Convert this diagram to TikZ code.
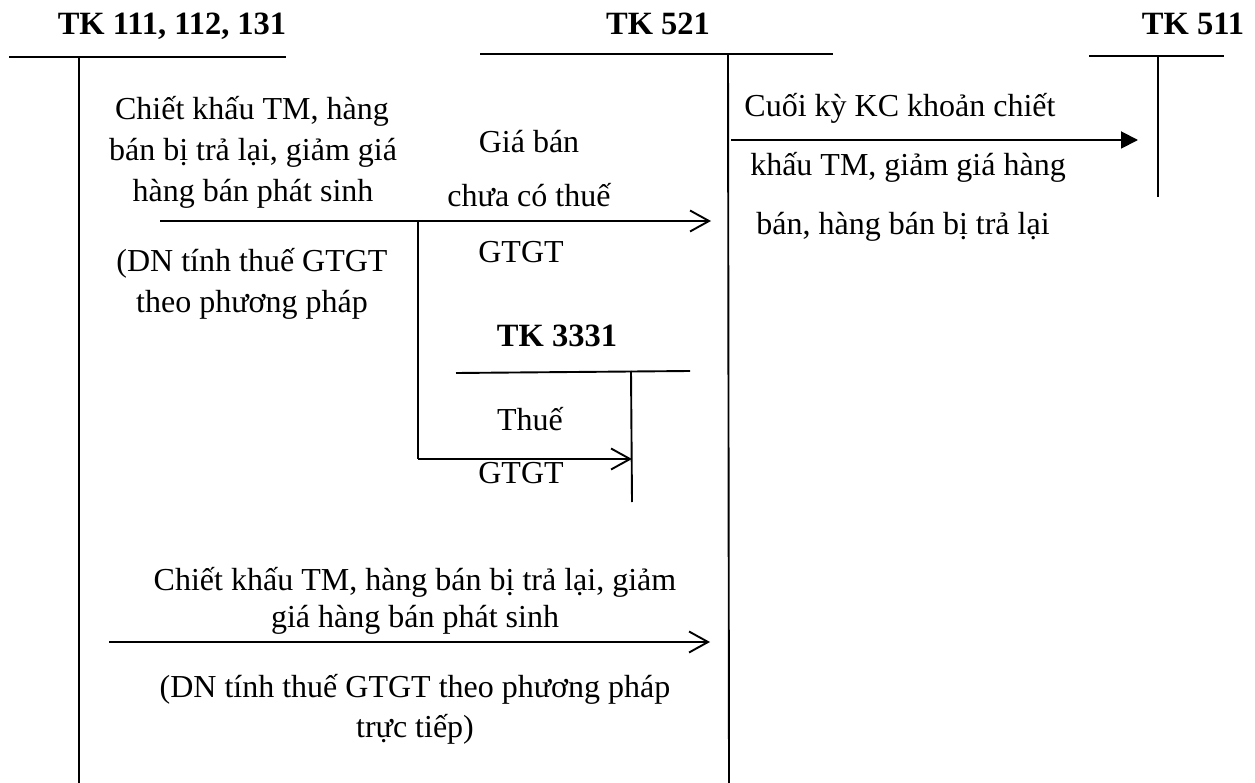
\documentclass[tikz,border=0pt]{standalone}
\usepackage{fontspec}
\setmainfont{Liberation Serif}
\usetikzlibrary{arrows.meta}
\begin{document}
\begin{tikzpicture}[x=1pt,y=-1pt,
  acct/.style={line width=1.9pt},
  flow/.style={line width=1.9pt,-{Straight Barb[length=19pt,width=21pt,line width=1.9pt]}},
  kc/.style={line width=1.9pt,-{Triangle[length=17pt,width=17pt]}},
  lbl/.style={anchor=base,inner sep=0pt,font=\fontsize{32}{38}\selectfont},
  title/.style={lbl,font=\fontsize{32.5}{38}\selectfont\bfseries}]
\useasboundingbox (0,0) rectangle (1255,783);

% account titles
\node[title] (t1) at (172,35) {TK 111, 112, 131};
\node[title] (t521) at (658,35) {TK 521};
\node[title] (t511) at (1193,35) {TK 511};
\node[title] (t3331) at (557,347) {TK 3331};

% T-account frames
\coordinate (a1l) at (9,57);   \coordinate (a1r) at (286,57);
\coordinate (a1t) at (79,57);  \coordinate (a1b) at (79,783);
\coordinate (b1l) at (480,54); \coordinate (b1r) at (833,54);
\coordinate (b1t) at (728,54); \coordinate (b1b) at (729,783);
\coordinate (c1l) at (1089,56); \coordinate (c1r) at (1224,56);
\coordinate (c1t) at (1158,56); \coordinate (c1b) at (1158,197);
\coordinate (d1l) at (456,373); \coordinate (d1r) at (690,371);
\coordinate (d1t) at (631,371); \coordinate (d1b) at (632,502);
\draw[acct] (a1l) -- (a1r);  \draw[acct] (a1t) -- (a1b);
\draw[acct] (b1l) -- (b1r);  \draw[acct] (b1t) -- (b1b);
\draw[acct] (c1l) -- (c1r);  \draw[acct] (c1t) -- (c1b);
\draw[acct] (d1l) -- (d1r);  \draw[acct] (d1t) -- (d1b);

% upper flow: deduction split into net price and VAT
\coordinate (u0) at (160,221);
\coordinate (uj) at (418,221);
\coordinate (u1) at (711,221);
\coordinate (vj) at (418,459);
\coordinate (v1) at (632,459);
\draw[flow] (u0) -- (u1);
\draw[acct] (uj) -- (vj);
\draw[flow] (vj) -- (v1);

\node[lbl] (l1) at (252,120) {Chiết khấu TM, hàng};
\node[lbl] (l2) at (253,161) {bán bị trả lại, giảm giá};
\node[lbl] (l3) at (253,202) {hàng bán phát sinh};
\node[lbl] (l4) at (252,272) {(DN tính thuế GTGT};
\node[lbl] (l5) at (252,313) {theo phương pháp};

\node[lbl] (g1) at (529,153) {Giá bán};
\node[lbl] (g2) at (529,207) {chưa có thuế};
\node[lbl] (g3) at (521,263) {GTGT};

\node[lbl] (h1) at (530,430) {Thuế};
\node[lbl] (h2) at (521,483) {GTGT};

% lower flow: direct method
\coordinate (w0) at (109,642);
\coordinate (w1) at (710,642);
\draw[flow] (w0) -- (w1);
\node[lbl] (m1) at (415,590) {Chiết khấu TM, hàng bán bị trả lại, giảm};
\node[lbl] (m2) at (415,627) {giá hàng bán phát sinh};
\node[lbl] (m3) at (415,697) {(DN tính thuế GTGT theo phương pháp};
\node[lbl] (m4) at (415,737) {trực tiếp)};

% year-end transfer to TK 511
\coordinate (k0) at (731,140);
\coordinate (k1) at (1138,140);
\draw[kc] (k0) -- (k1);
\node[lbl] (r1) at (900,117) {Cuối kỳ KC khoản chiết};
\node[lbl] (r2) at (908,176) {khấu TM, giảm giá hàng};
\node[lbl] (r3) at (903,235) {bán, hàng bán bị trả lại};
\end{tikzpicture}
\end{document}
